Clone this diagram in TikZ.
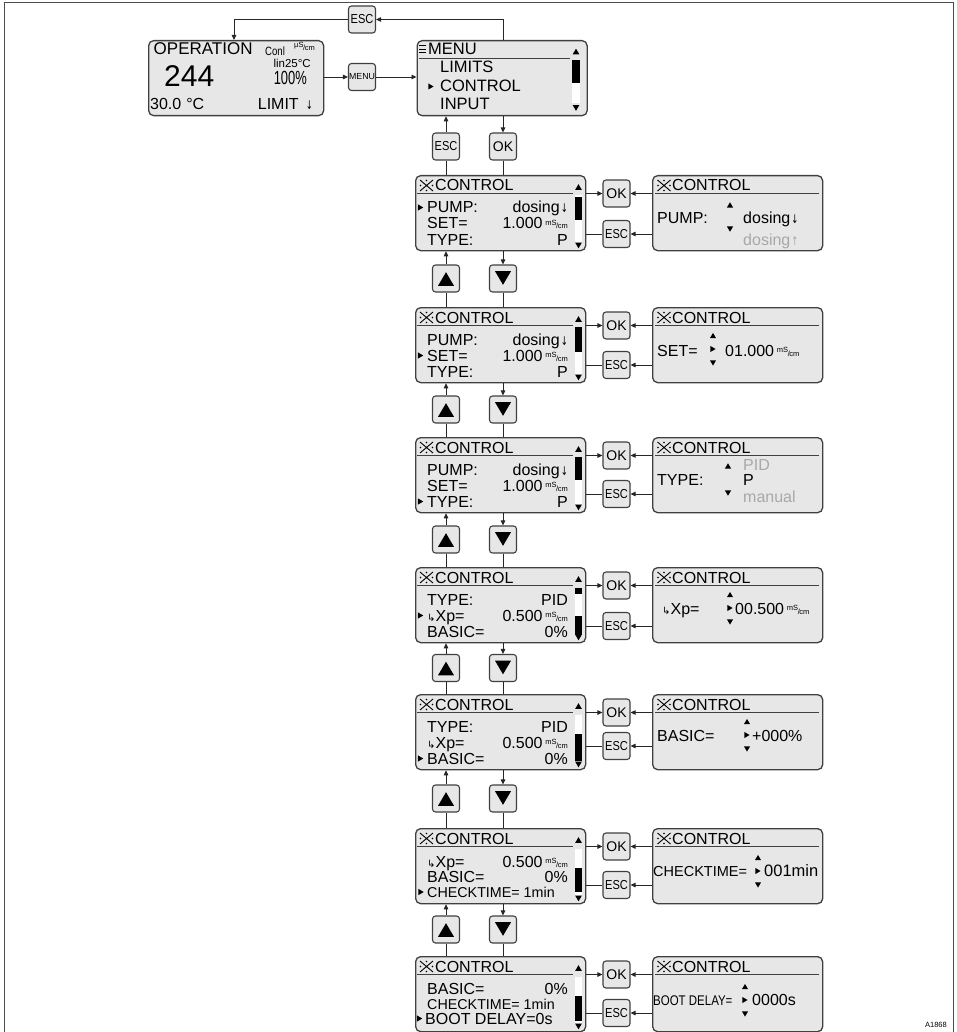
\documentclass[tikz,border=0pt]{standalone}
\usepackage{fontspec}
\usepackage{graphicx}
\setmainfont{Liberation Sans}
\newfontfamily\djv{DejaVu Sans}
\usetikzlibrary{arrows.meta}
\definecolor{lcdfill}{RGB}{231,231,231}
\definecolor{edge}{RGB}{64,64,64}
\definecolor{dim}{RGB}{168,168,168}
\newcommand\fs[1]{\fontsize{#1}{#1}\selectfont}
\newcommand\unitms{{\fs{7.5}\raisebox{3.8pt}{mS}\kern-0.3pt/\kern-0.5pt cm}}
\newcommand\unitus{{\fs{7.5}\raisebox{3.8pt}{µS}\kern-0.3pt/\kern-0.5pt cm}}
\newcommand\hk{{\djv\fs{10}↳}}
\newcommand\escl{\scalebox{0.85}[1]{ESC}}
\newcommand\dar{\kern1pt{\djv\fs{12}\scalebox{0.7}[1]{↓}}}
\newcommand\uar{\kern1pt{\djv\fs{12}\scalebox{0.7}[1]{↑}}}
\tikzset{
 lcd/.style={draw=edge, line width=1.3pt, fill=lcdfill, rounded corners=5pt, inner sep=0pt, minimum width=170pt, minimum height=75pt, anchor=north west},
 btn/.style={draw=edge, line width=1.1pt, fill=lcdfill, rounded corners=3pt, inner sep=0pt, minimum width=27pt, minimum height=27pt},
 con/.style={draw=black!85, line width=0.9pt},
 arr/.style={con, -{Triangle[length=5pt,width=4.5pt]}},
 tl/.style={anchor=base west, inner sep=0pt},
 tr/.style={anchor=base east, inner sep=0pt},
 hl/.style={draw=edge, line width=1.2pt},
}
\newcommand\tup[3]{\fill ({#1-#3},{#2+0.85*#3}) -- ({#1+#3},{#2+0.85*#3}) -- ({#1},{#2-0.85*#3}) -- cycle;}
\newcommand\tdn[3]{\fill ({#1-#3},{#2-0.85*#3}) -- ({#1+#3},{#2-0.85*#3}) -- ({#1},{#2+0.85*#3}) -- cycle;}
\newcommand\trt[3]{\fill ({#1-0.85*#3},{#2-#3}) -- ({#1-0.85*#3},{#2+#3}) -- ({#1+0.85*#3},{#2}) -- cycle;}
\newcommand\refmk[2]{%
 \draw[line width=0.9pt] ({#1-6.5},{#2-5.5}) -- ({#1+6.5},{#2+5.5}) ({#1-6.5},{#2+5.5}) -- ({#1+6.5},{#2-5.5});
 \fill ({#1-6},{#2}) circle (0.9) ({#1+6},{#2}) circle (0.9) ({#1},{#2-5}) circle (0.9) ({#1},{#2+5}) circle (0.9);}
\newcommand\lbox[2]{%
 \node[lcd] (#1) at (415,{#2}) {};
 \refmk{426.5}{#2+10.5}
 \node[tl,font=\fs{16}] (#1h) at (435,{#2+16}) {CONTROL};
 \draw[hl] (417,{#2+18.5}) -- (573,{#2+18.5});
 \fill[white] (575,{#2+20.5}) rectangle (582,{#2+67});
 \tup{578.5}{#2+12}{3.3}
 \tdn{578.5}{#2+70.5}{3.3}}
\newcommand\lrow[5]{%
 \node[tl,font=\fs{#5}] (#1a) at (427,{#2}) {#3};
 \node[tr,font=\fs{#5}] (#1b) at (568,{#2}) {#4};}
\newcommand\selm[2]{\trt{#1}{#2}{3.2}}
\newcommand\rbox[2]{%
 \node[lcd] (#1) at (652,{#2}) {};
 \refmk{664}{#2+10.5}
 \node[tl,font=\fs{16}] (#1h) at (672,{#2+16}) {CONTROL};
 \draw[hl] (655,{#2+18.5}) -- (819,{#2+18.5});}
\newcommand\arrows[2]{%
 \tup{#1}{#2-13.5}{3}
 \trt{#1}{#2}{3}
 \tdn{#1}{#2+14}{3}}
\newcommand\side[3]{%
 \node[btn,font=\fs{14}] (ok#1) at (616.5,{#2+18.5}) {OK};
 \node[btn,font=\fs{13}] (esc#1) at (616.5,{#2+#3}) {\escl};
 \draw[arr] (L#1.east |- ok#1) -- (ok#1.west);
 \draw[arr] (R#1.west |- ok#1) -- (ok#1.east);
 \draw[con] (L#1.east |- esc#1) -- (esc#1.west);
 \draw[arr] (R#1.west |- esc#1) -- (esc#1.east);}
\newcommand\updn[3]{%
 \node[btn] (up#1) at (446,{#3}) {};
 \node[btn] (dn#1) at (503,{#3}) {};
 \tup{446}{#3+0.5}{8}
 \tdn{503}{#3-0.5}{8}
 \draw[arr] (up#1.north) -- (L#1.south -| up#1);
 \draw[arr] (L#1.south -| dn#1) -- (dn#1.north);
 \draw[con] (up#1.south) -- (L#2.north -| up#1);
 \draw[con] (dn#1.south) -- (L#2.north -| dn#1);}
\begin{document}
\begin{tikzpicture}[x=1pt,y=-1pt]
\useasboundingbox (0,0) rectangle (956,1032);
\draw[line width=1.3pt, black!70] (4.5,1032) -- (4.5,2.5) -- (953.5,2.5) -- (953.5,1032);
\node[tr,font=\fs{7.5}] (code) at (947,1027) {A1868};

% ---------- top row ----------
\node[lcd, minimum width=175pt] (op) at (148,40) {};
\node[lcd] (menu) at (416.5,40) {};
\node[btn,font=\fs{13}] (escT) at (362,19.5) {\escl};
\node[btn,font=\fs{8.8}] (menuB) at (362,77) {MENU};
\node[btn,font=\fs{13}] (escM) at (446,146.5) {\escl};
\node[btn,font=\fs{14}] (okM) at (503,146.5) {OK};
\coordinate (opin) at (234,40);

\node[tl,font=\fs{17}] (o1) at (153.5,55) {OPERATION};
\node[tl,font=\fs{12}] (o2) at (265,56) {\scalebox{0.8}[1]{Conl}};
\node[tl] (o3) at (294,51) {\unitus};
\node[tr,font=\fs{11.5}] (o4) at (311,68) {lin25°C};
\node[tr,font=\fs{19}] (o5) at (307,85) {\scalebox{0.68}[1]{100\%}};
\node[tl,font=\fs{30}] (o6) at (164,87) {244};
\node[tl,font=\fs{16}] (o7) at (150,110) {30.0\hspace{5pt}°C};
\node[tr,font=\fs{16}] (o8) at (313,110) {LIMIT\hspace{6pt}\dar};

\draw[line width=1pt] (419,46)--(426,46) (419,49.5)--(426,49.5) (419,53)--(426,53);
\node[tl,font=\fs{16.5}] (mh) at (428,55) {MENU};
\draw[hl] (419,58.5) -- (570,58.5);
\tup{576}{51.5}{3.3}
\fill[white] (572,60) rectangle (580,103);
\fill (572,60) rectangle (580,83);
\tdn{576}{108}{3.3}
\node[tl,font=\fs{16.5}] (m1) at (440,73) {LIMITS};
\trt{431}{86.5}{3}
\node[tl,font=\fs{16.5}] (m2) at (440,92) {CONTROL};
\node[tl,font=\fs{16.5}] (m3) at (440,110) {INPUT};

% ---------- left boxes ----------
\lbox{L1}{175}
\fill (575,197) rectangle (582,220);
\lrow{a1}{213}{PUMP:}{dosing\dar}{16}
\lrow{a2}{229}{SET=}{1.000\,\unitms}{16}
\lrow{a3}{245}{TYPE:}{P}{16}
\selm{420.5}{207.5}

\lbox{L2}{307}
\fill (575,327) rectangle (582,352);
\lrow{b1}{345}{PUMP:}{dosing\dar}{16}
\lrow{b2}{361}{SET=}{1.000\,\unitms}{16}
\lrow{b3}{377}{TYPE:}{P}{16}
\selm{420.5}{355.5}

\lbox{L3}{437}
\fill (575,457) rectangle (582,480);
\lrow{c1}{475}{PUMP:}{dosing\dar}{16}
\lrow{c2}{491}{SET=}{1.000\,\unitms}{16}
\lrow{c3}{507}{TYPE:}{P}{16}
\selm{420.5}{501.5}

\lbox{L4}{567}
\fill (575,588) rectangle (582,594);
\fill (575,616) rectangle (582,635);
\lrow{d1}{605}{TYPE:}{PID}{16}
\lrow{d2}{621}{\hk Xp=}{0.500\,\unitms}{16}
\lrow{d3}{637}{BASIC=}{0\%}{16}
\selm{420.5}{615.5}

\lbox{L5}{694}
\fill (575,734) rectangle (582,761);
\lrow{e1}{732}{TYPE:}{PID}{16}
\lrow{e2}{748}{\hk Xp=}{0.500\,\unitms}{16}
\lrow{e3}{764}{BASIC=}{0\%}{16}
\selm{420.5}{758.5}

\lbox{L6}{828}
\fill (575,868) rectangle (582,892);
\lrow{f1}{867}{\hk Xp=}{0.500\,\unitms}{16}
\lrow{f2}{882}{BASIC=}{0\%\hspace{4pt}}{16}
\node[tl,font=\fs{14.3}] (f3a) at (427,897) {CHECKTIME= 1min};
\selm{421}{892}

\lbox{L7}{956}
\fill (575,996) rectangle (582,1021);
\lrow{g1}{994}{BASIC=}{0\%\hspace{4pt}}{16}
\node[tl,font=\fs{14.3}] (g2a) at (427,1009) {CHECKTIME= 1min};
\node[tl,font=\fs{16}] (g3a) at (425,1024) {BOOT DELAY=0s};
\selm{419.5}{1018.5}

% ---------- right boxes ----------
\rbox{R1}{175}
\node[tl,font=\fs{16}] (ra) at (657,223) {PUMP:};
\tup{730}{205}{3.2}
\tdn{730}{229}{3.2}
\node[tl,font=\fs{16}] (rb) at (743,223) {dosing\dar};
\node[tl,font=\fs{16},text=dim] (rc) at (743,245) {dosing\uar};

\rbox{R2}{307}
\node[tl,font=\fs{16}] (sa) at (657,356) {SET=};
\arrows{713}{349}
\node[tl,font=\fs{16}] (sb) at (725,356) {01.000\,\unitms};

\rbox{R3}{437}
\node[tl,font=\fs{16}] (ta) at (657,485) {TYPE:};
\tup{728}{466}{3.2}
\tdn{728}{493}{3.2}
\node[tl,font=\fs{16},text=dim] (tb) at (743,470) {PID};
\node[tl,font=\fs{16}] (tc) at (743,485) {P};
\node[tl,font=\fs{16},text=dim] (td) at (743,502) {manual};

\rbox{R4}{567}
\node[tl,font=\fs{16}] (ua) at (662,614) {\hk Xp=};
\arrows{730}{608}
\node[tl,font=\fs{16}] (ub) at (735,614) {00.500\,\unitms};

\rbox{R5}{694}
\node[tl,font=\fs{16}] (va) at (657,741) {BASIC=};
\arrows{747}{735}
\node[tl,font=\fs{16}] (vb) at (752,741) {+000\%};

\rbox{R6}{828}
\node[tl,font=\fs{14.5}] (wa) at (653,876) {CHECKTIME=};
\arrows{758}{871}
\node[tl,font=\fs{16.5}] (wb) at (764,876) {001min};

\rbox{R7}{956}
\node[tl,font=\fs{14}] (xa) at (653,1005) {\scalebox{0.82}[1]{BOOT DELAY=}};
\arrows{745}{1000}
\node[tl,font=\fs{16}] (xb) at (752,1005) {0000s};

% ---------- connectors ----------
\draw[arr] (menu.north -| okM) |- (escT.east);
\draw[arr] (escT.west) -| (opin);
\draw[arr] (op.east |- menuB) -- (menuB.west);
\draw[arr] (menuB.east) -- (menu.west |- menuB);
\draw[arr] (escM.north) -- (menu.south -| escM);
\draw[arr] (menu.south -| okM) -- (okM.north);
\draw[con] (escM.south) -- (L1.north -| escM);
\draw[con] (okM.south) -- (L1.north -| okM);

\side{1}{175}{59}
\side{2}{307}{58}
\side{3}{437}{57}
\side{4}{567}{59}
\side{5}{694}{52}
\side{6}{828}{57}
\side{7}{956}{57}

\updn{1}{2}{278.5}
\updn{2}{3}{409.5}
\updn{3}{4}{539.5}
\updn{4}{5}{668}
\updn{5}{6}{798.5}
\updn{6}{7}{929.5}
\end{tikzpicture}
\end{document}
